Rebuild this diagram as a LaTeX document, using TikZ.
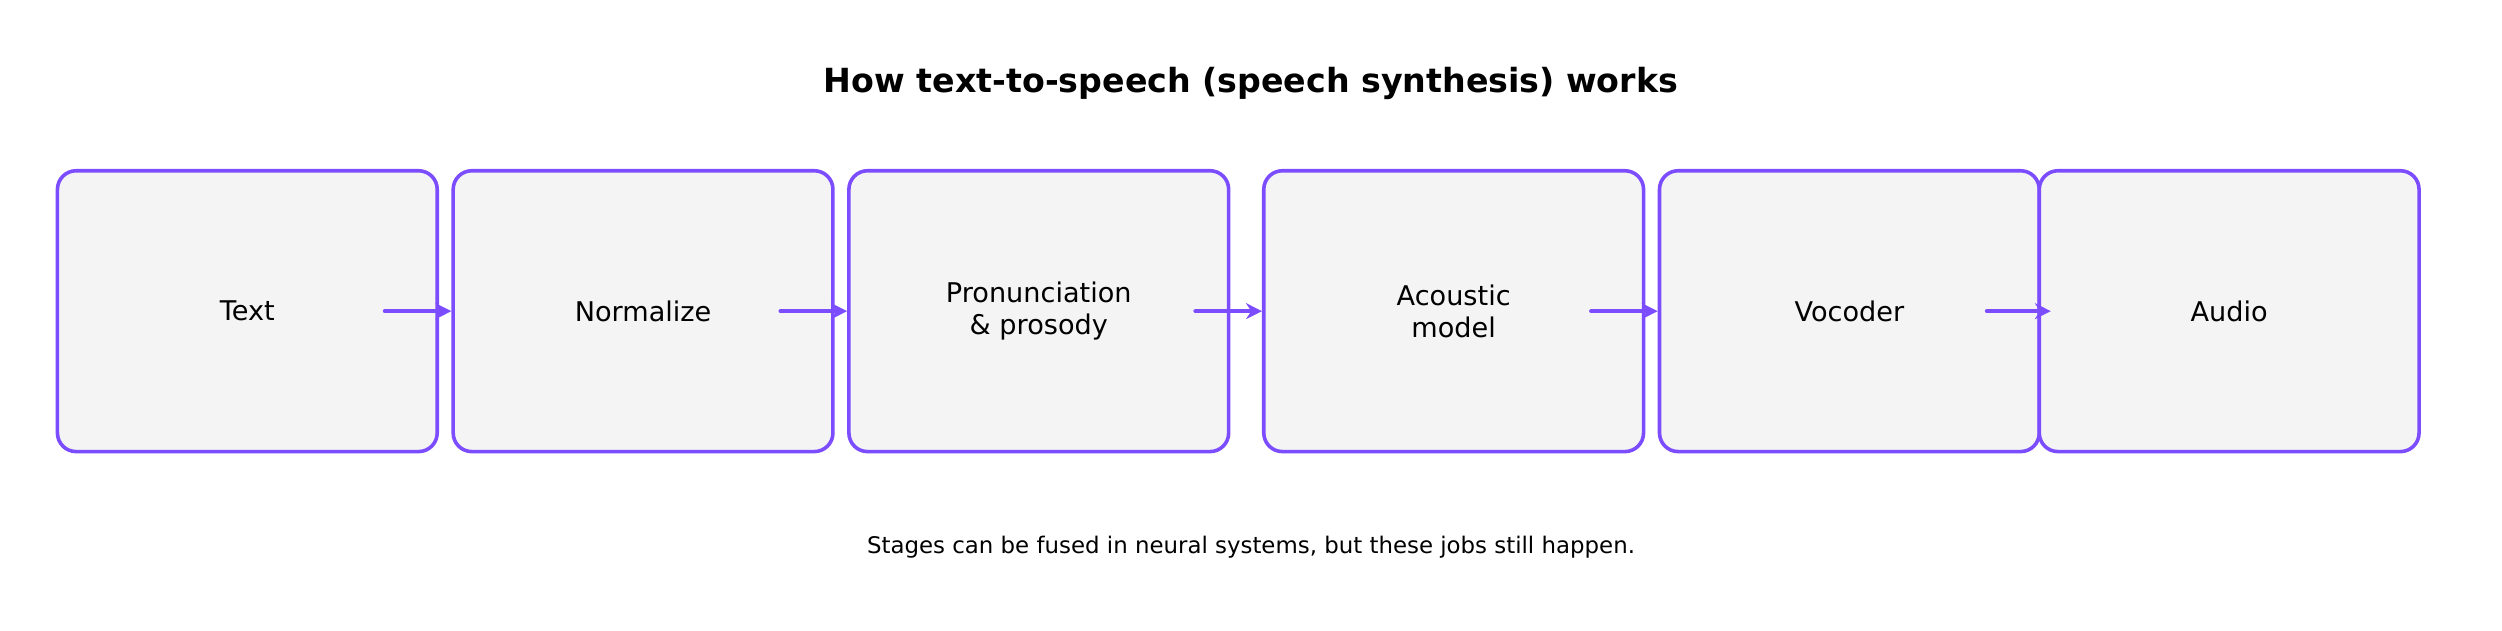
\documentclass[tikz,border=0pt]{standalone}
\usepackage{fontspec}
\setmainfont{DejaVu Sans}
\usetikzlibrary{arrows.meta}
\definecolor{stageedge}{HTML}{7C4DFF}
\definecolor{stagefill}{HTML}{F4F4F4}
\tikzset{
  stage/.style={draw=stageedge,fill=stagefill,line width=1.35pt,rounded corners=7pt,
    minimum width=142.8pt,minimum height=105.6pt,align=center,font=\fontsize{10.2}{12}\selectfont},
  flow/.style={draw=stageedge,line width=1.5pt,-{Stealth[length=6pt,width=6pt]},line cap=round}
}
\begin{document}
\begin{tikzpicture}[x=0.6pt,y=0.6pt]
  \useasboundingbox (0,0) rectangle (1568,-395);
  \node [font=\bfseries\fontsize{12.5}{15}\selectfont] (title) at (784,-52) {How text-to-speech (speech synthesis) works};
  \node [stage] (text) at (155,-195) {Text};
  \node [stage] (norm) at (403,-195) {Normalize};
  \node [stage] (pron) at (651,-195) {Pronunciation\\\& prosody};
  \node [stage] (acou) at (911,-195) {Acoustic\\model};
  \node [stage] (voco) at (1159,-195) {Vocoder};
  \node [stage] (audio) at (1397,-195) {Audio};
%   arrows start inside the box
  \draw [flow] ([xshift=-20.4pt]text.east) -- (norm.west);
  \draw [flow] ([xshift=-20.4pt]norm.east) -- (pron.west);
  \draw [flow] ([xshift=-13.2pt]pron.east) -- (acou.west);
  \draw [flow] ([xshift=-20.4pt]acou.east) -- (voco.west);
  \draw [flow] ([xshift=-20.4pt]voco.east) -- ([xshift=5pt]audio.west);
  \node [font=\fontsize{8.6}{10}\selectfont] (note) at (784,-343) {Stages can be fused in neural systems, but these jobs still happen.};
\end{tikzpicture}
\end{document}
